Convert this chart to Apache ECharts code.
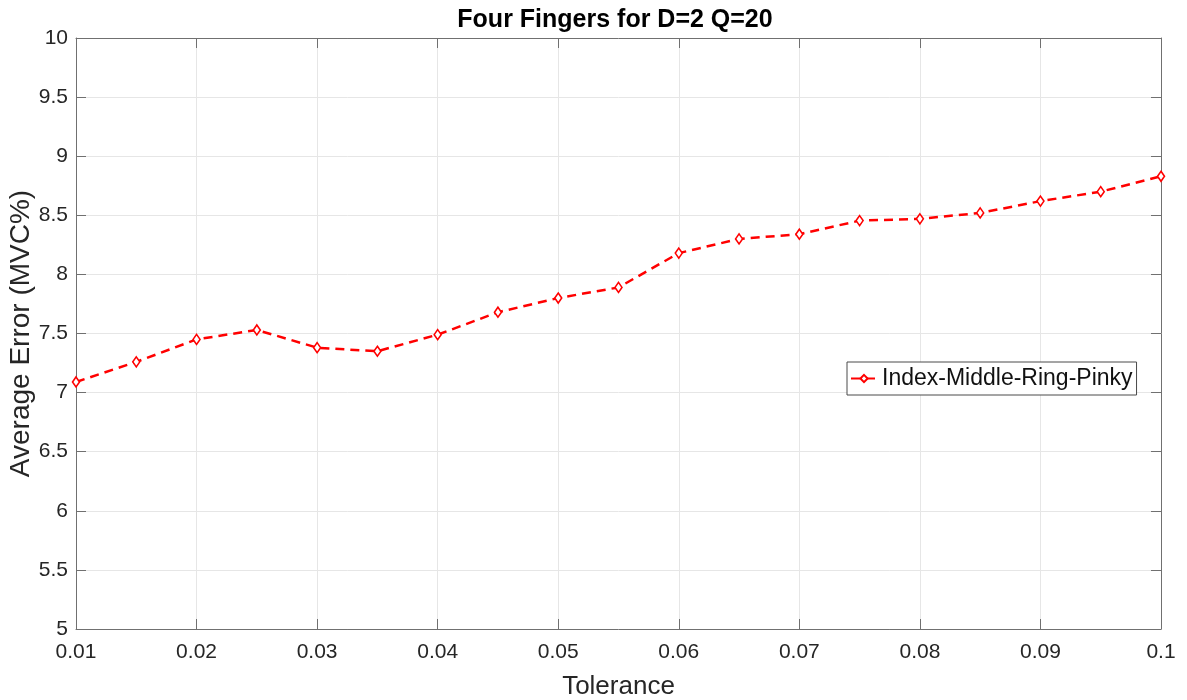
<!DOCTYPE html>
<html>
<head>
<meta charset="utf-8">
<title>Four Fingers for D=2 Q=20</title>
<script src="https://cdn.jsdelivr.net/npm/echarts@6/dist/echarts.min.js"></script>
<style>
  html, body { margin: 0; padding: 0; background: #ffffff; }
  #chart { width: 1187px; height: 700px; }
</style>
</head>
<body>
<div id="chart"></div>
<script>
// Tolerance values (x) and average error in %MVC (y)
const tolerance = [0.01, 0.015, 0.02, 0.025, 0.03, 0.035, 0.04, 0.045, 0.05, 0.055,
                   0.06, 0.065, 0.07, 0.075, 0.08, 0.085, 0.09, 0.095, 0.1];
const avgError = [7.09, 7.26, 7.45, 7.53, 7.38, 7.35, 7.49, 7.68, 7.80, 7.89,
                  8.18, 8.30, 8.34, 8.455, 8.47, 8.52, 8.62, 8.70, 8.83];
const seriesName = 'Index-Middle-Ring-Pinky';
const xTicks = [0.01, 0.02, 0.03, 0.04, 0.05, 0.06, 0.07, 0.08, 0.09, 0.1];
const yTicks = [5, 5.5, 6, 6.5, 7, 7.5, 8, 8.5, 9, 9.5, 10];

const FONT = '"Liberation Sans", Arial, Helvetica, sans-serif';
const AXIS_GRAY = '#707070';
const GRID_GRAY = '#e6e6e6';

const points = tolerance.map((t, i) => [t, avgError[i]]);

const fmtNum = v => String(+v.toFixed(3));

function makeX(primary) {
  return {
    type: 'value',
    position: primary ? 'bottom' : 'top',
    min: xTicks[0],
    max: xTicks[xTicks.length - 1],
    interval: xTicks[1] - xTicks[0],
    name: primary ? 'Tolerance' : '',
    nameLocation: 'middle',
    nameGap: 45,
    nameMoveOverlap: false,
    nameTextStyle: { fontFamily: FONT, fontSize: 26, color: '#262626' },
    axisLine: { show: true, onZero: false, lineStyle: { color: AXIS_GRAY, width: 1 } },
    axisTick: { show: true, inside: true, length: 10, lineStyle: { color: AXIS_GRAY } },
    axisLabel: {
      show: primary, margin: 13, fontFamily: FONT, fontSize: 21, color: '#262626',
      formatter: fmtNum
    },
    splitLine: { show: primary, lineStyle: { color: GRID_GRAY, width: 1 } }
  };
}

function makeY(primary) {
  return {
    type: 'value',
    position: primary ? 'left' : 'right',
    min: yTicks[0],
    max: yTicks[yTicks.length - 1],
    interval: yTicks[1] - yTicks[0],
    name: primary ? 'Average Error (MVC%)' : '',
    nameLocation: 'middle',
    nameRotate: 90,
    nameGap: 41,
    nameMoveOverlap: false,
    nameTextStyle: { fontFamily: FONT, fontSize: 28, color: '#262626' },
    axisLine: { show: true, onZero: false, lineStyle: { color: AXIS_GRAY, width: 1 } },
    axisTick: { show: true, inside: true, length: 10, lineStyle: { color: AXIS_GRAY } },
    axisLabel: {
      show: primary, margin: 8, fontFamily: FONT, fontSize: 21, color: '#262626',
      formatter: fmtNum
    },
    splitLine: { show: primary, lineStyle: { color: GRID_GRAY, width: 1 } }
  };
}

const chart = echarts.init(document.getElementById('chart'), null, { renderer: 'canvas' });

chart.setOption({
  backgroundColor: '#ffffff',
  animation: false,
  graphic: [{
    type: 'text',
    x: 615,
    y: 20,
    style: {
      text: 'Four Fingers for D=2 Q=20',
      font: 'bold 25px ' + FONT,
      fill: '#000000',
      align: 'center',
      verticalAlign: 'middle'
    }
  }],
  grid: { left: 76, right: 26, top: 38, bottom: 71, containLabel: false, outerBoundsMode: 'none' },
  legend: {
    data: [seriesName],
    left: 847,
    top: 362,
    orient: 'horizontal',
    backgroundColor: '#ffffff',
    borderColor: '#4a4a4a',
    borderWidth: 1,
    borderRadius: 0,
    padding: [5, 4, 5, 3],
    itemWidth: 26,
    itemHeight: 9,
    itemGap: 8,
    textStyle: { fontFamily: FONT, fontSize: 23, color: '#111111' }
  },
  xAxis: [makeX(true), makeX(false)],
  yAxis: [makeY(true), makeY(false)],
  series: [{
    name: seriesName,
    type: 'line',
    xAxisIndex: 0,
    yAxisIndex: 0,
    data: points,
    symbol: 'diamond',
    symbolSize: [7, 10],
    showSymbol: true,
    lineStyle: { color: '#ff0000', width: 2.5, type: [9, 6] },
    itemStyle: { color: '#ffffff', borderColor: '#ff0000', borderWidth: 1.6 },
    emphasis: { disabled: true }
  }]
});
</script>
</body>
</html>
